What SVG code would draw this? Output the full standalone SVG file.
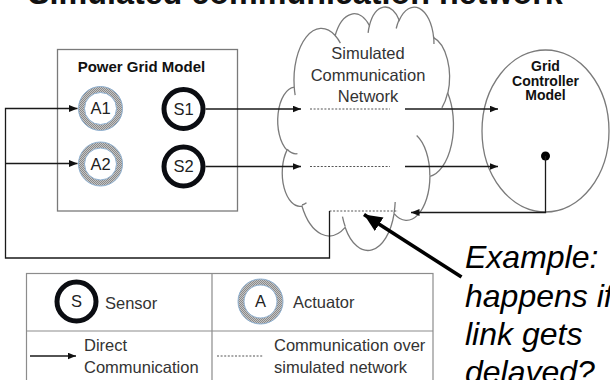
<svg xmlns="http://www.w3.org/2000/svg" width="610" height="380" viewBox="0 0 610 380">
  <defs>
    <style>
      text{font-family:"Liberation Sans",Arial,Helvetica,sans-serif}
      .title{font-size:32.3px;font-weight:bold;fill:#111}
      .hdr{font-size:15px;font-weight:bold;fill:#111}
      .hdr2{font-size:14px;font-weight:bold;fill:#111;text-anchor:middle}
      .lbl{font-size:16.5px;fill:#333}
      .mid{text-anchor:middle}
      .node-id{font-size:16.5px;fill:#222;text-anchor:middle}
      .note{font-size:32px;font-style:italic;fill:#000}
      .box{fill:#fff;stroke:#7a7a7a;stroke-width:1.3}
      .cloud{fill:#fff;stroke:#7a7a7a;stroke-width:1.3;vector-effect:non-scaling-stroke}
      .cloud-in{fill:none;stroke:#7a7a7a;stroke-width:1.3;vector-effect:non-scaling-stroke}
      .conn{fill:none;stroke:#1a1a1a;stroke-width:1.3}
      .dash{fill:none;stroke:#555;stroke-width:1.1;stroke-dasharray:2 1.6}
      .sensor{fill:#fff;stroke:#0b0d12;stroke-width:5}
      .act-band{fill:#fff;stroke:url(#stipple);stroke-width:6}
      .act-edge{fill:none;stroke:#8fb0d0;stroke-width:1}
      .grid-line{fill:none;stroke:#8c8c8c;stroke-width:1.2}
    </style>
    <pattern id="stipple" width="2" height="2" patternUnits="userSpaceOnUse">
      <rect width="2" height="2" fill="#c4c4c4"/>
      <rect width="1" height="1" fill="#8a8a8a"/>
      <rect x="1" y="1" width="1" height="1" fill="#8a8a8a"/>
    </pattern>
    <marker id="ah" markerUnits="userSpaceOnUse" markerWidth="9" markerHeight="8" refX="8.5" refY="3.5" orient="auto">
      <path d="M0,0 L8.5,3.5 L0,7 z" fill="#111"/>
    </marker>
    <marker id="bigAh" markerUnits="userSpaceOnUse" markerWidth="20" markerHeight="18" refX="18" refY="8" orient="auto">
      <path d="M0,0 L18,8 L0,16 z" fill="#000"/>
    </marker>
  </defs>

  <rect width="610" height="380" fill="#fff"/>

  <!-- heading, mostly above the top edge -->
  <text class="title" x="28" y="3.8">Simulated communication network</text>

  <!-- power grid model box with actuators and sensors -->
  <g id="power-grid-model">
    <rect class="box" x="57.5" y="49.5" width="180" height="161.5"/>
    <text class="hdr" x="77.7" y="72">Power Grid Model</text>
  </g>

  <g id="A1">
    <circle class="act-band" cx="100.5" cy="108.5" r="19"/>
    <circle class="act-edge" cx="100.5" cy="108.5" r="22"/>
    <circle class="act-edge" cx="100.5" cy="108.5" r="16"/>
    <text class="node-id" x="100.5" y="114.4">A1</text>
  </g>
  <g id="A2">
    <circle class="act-band" cx="100.5" cy="164" r="19"/>
    <circle class="act-edge" cx="100.5" cy="164" r="22"/>
    <circle class="act-edge" cx="100.5" cy="164" r="16"/>
    <text class="node-id" x="100.5" y="169.9">A2</text>
  </g>
  <g id="S1">
    <circle class="sensor" cx="183.5" cy="109" r="19.5"/>
    <text class="node-id" x="183.5" y="114.9">S1</text>
  </g>
  <g id="S2">
    <circle class="sensor" cx="183.5" cy="166.5" r="19.5"/>
    <text class="node-id" x="183.5" y="172.4">S2</text>
  </g>

  <!-- communication network cloud (11 lobes, drawn in a 43200 unit box) -->
  <g id="comm-network">
    <g transform="translate(278.44,6.22) scale(0.004050,0.005634)">
      <path class="cloud" d="M3900,14370 A6753,9190 0 0 1 14006,5203 A5333,7267 0 0 1 22457,3431 A4365,5945 0 0 1 29835,2479 A4857,6595 0 0 1 38319,5576 A5333,7273 0 0 1 41820,15460 A6775,9220 0 0 1 37404,30201 A5785,7867 0 0 1 28556,36811 A6752,9215 0 0 1 16481,39263 A7720,10543 0 0 1 5803,35468 A4360,5918 0 0 1 2113,25545 A4345,5945 0 0 1 3900,14370 Z"/>
      <path class="cloud-in" d="M4693,26177 A4345,5945 0 0 1 2159,25380 M6928,34899 A4360,5918 0 0 1 5819,35281 M16478,39090 A6752,9215 0 0 1 15809,37348 M28827,34751 A6752,9215 0 0 1 28561,36660 M34129,22954 A5785,7867 0 0 1 37381,30090 M41798,15354 A5333,7273 0 0 1 40350,18029 M38324,5426 A4857,6595 0 0 1 38400,6690 M29078,3952 A4857,6595 0 0 1 29820,2339 M22141,4720 A4365,5945 0 0 1 22500,3331 M14000,5192 A6753,9190 0 0 1 15300,6540 M4127,15789 A6753,9190 0 0 1 3900,14371"/>
    </g>
    <text class="lbl mid" x="368" y="58.5">Simulated</text>
    <text class="lbl mid" x="368" y="80.5">Communication</text>
    <text class="lbl mid" x="368" y="102">Network</text>
  </g>

  <!-- grid controller -->
  <g id="grid-controller">
    <ellipse class="box" cx="545.5" cy="131" rx="63.5" ry="81"/>
    <text class="hdr2" x="545.5" y="71">Grid</text>
    <text class="hdr2" x="545.5" y="85.5">Controller</text>
    <text class="hdr2" x="545.5" y="100">Model</text>
  </g>

  <!-- links -->
  <g id="connectors">
    <!-- sensor readings to the controller -->
    <path class="conn" d="M205.5,109 H301" marker-end="url(#ah)"/>
    <path class="dash" d="M310,109 H390"/>
    <path class="conn" d="M405,109 H498" marker-end="url(#ah)"/>
    <path class="conn" d="M205.5,166.5 H301" marker-end="url(#ah)"/>
    <path class="dash" d="M310,166.5 H390"/>
    <path class="conn" d="M405,166.5 H498" marker-end="url(#ah)"/>
    <!-- control commands back to the actuators -->
    <circle cx="545.5" cy="156" r="4.5" fill="#000"/>
    <path class="conn" d="M545.5,156 V212.5 H411" marker-end="url(#ah)"/>
    <path class="dash" d="M329.5,211 H398"/>
    <path class="conn" d="M329.5,211 V258 H5.5 V108.5 H77.5" marker-end="url(#ah)"/>
    <path class="conn" d="M5.5,163.5 H77.5" marker-end="url(#ah)"/>
    <!-- callout pointer -->
    <path d="M461.5,277 L364,214.6" fill="none" stroke="#000" stroke-width="3.6" marker-end="url(#bigAh)"/>
  </g>

  <!-- callout -->
  <g id="callout">
    <text class="note" x="465" y="268">Example:</text>
    <text class="note" x="465" y="306.5">happens if</text>
    <text class="note" x="465" y="344.5">link gets</text>
    <text class="note" x="465" y="382.5">delayed?</text>
  </g>

  <!-- key -->
  <g id="legend">
    <rect x="26.5" y="273.5" width="406.5" height="130" fill="#fff" stroke="#8c8c8c" stroke-width="1.2"/>
    <path class="grid-line" d="M212,273.5 V380 M26.5,331 H433"/>
    <circle class="sensor" cx="76.5" cy="301.5" r="19.5"/>
    <text class="node-id" x="76.5" y="307.4">S</text>
    <text class="lbl" x="105" y="308.5">Sensor</text>
    <circle class="act-band" cx="260.5" cy="301.5" r="19.5"/>
    <circle class="act-edge" cx="260.5" cy="301.5" r="22.5"/>
    <circle class="act-edge" cx="260.5" cy="301.5" r="16.5"/>
    <text class="node-id" x="260.5" y="307.4">A</text>
    <text class="lbl" x="293" y="307.5">Actuator</text>
    <path class="conn" d="M30,356 H76" marker-end="url(#ah)"/>
    <text class="lbl" x="84" y="351">Direct</text>
    <text class="lbl" x="84" y="373">Communication</text>
    <path class="dash" d="M217,356 H263"/>
    <text class="lbl" x="274" y="351">Communication over</text>
    <text class="lbl" x="274" y="373">simulated network</text>
  </g>
</svg>
